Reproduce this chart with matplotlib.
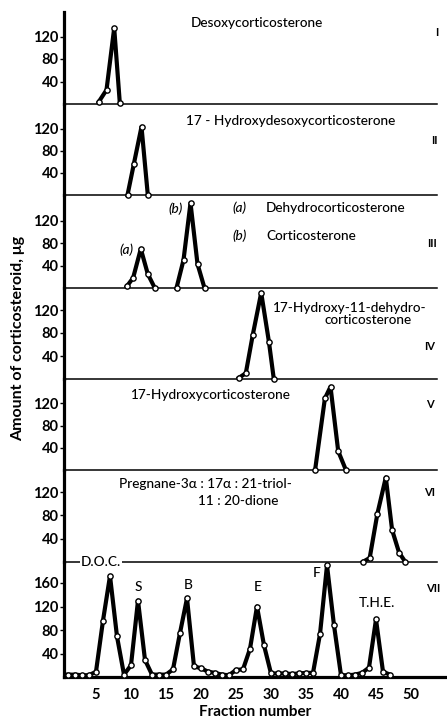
import matplotlib.pyplot as plt

plt.rcParams['font.family'] = ['Lato', 'DejaVu Sans']

W, H = 447, 721

# panel I .. VI : (fraction, amount µg)
frac_1 = [5.4, 6.5, 7.6, 8.4]
amt_1 = [4, 25, 135, 2]

frac_2 = [9.5, 10.4, 11.5, 12.4]
amt_2 = [0, 56, 124, 0]

frac_3a = [9.4, 10.3, 11.4, 12.4, 13.4]
amt_3a = [3, 18, 70, 25, 0]
frac_3b = [16.5, 17.5, 18.5, 19.5, 20.5]
amt_3b = [0, 50, 152, 43, 0]

frac_4 = [25.4, 26.4, 27.4, 28.6, 29.7, 30.4]
amt_4 = [2, 10, 77, 150, 65, 0]

frac_5 = [36.3, 37.7, 38.5, 39.6, 40.7]
amt_5 = [0, 129, 150, 34, 0]

frac_6 = [43.1, 44.1, 45.2, 46.4, 47.3, 48.3, 49.2]
amt_6 = [0, 7, 83, 145, 55, 16, 0]

# panel VII : mixture
frac_7 = list(range(1, 48))
amt_7 = [4, 4, 3, 3, 9, 96, 172, 69, 4, 20, 130, 29, 4, 4, 4, 13, 75, 134,
         18, 15, 9, 7, 4, 3, 12, 13, 48, 120, 54, 6, 6, 6, 5, 6, 7, 7,
         73, 190, 88, 3, 3, 4, 7, 16, 98, 9, 4]

panels = [
    [(frac_1, amt_1)],
    [(frac_2, amt_2)],
    [(frac_3a, amt_3a), (frac_3b, amt_3b)],
    [(frac_4, amt_4)],
    [(frac_5, amt_5)],
    [(frac_6, amt_6)],
    [(frac_7, amt_7)],
]

# layout in pixels
baselines = [12, 104, 195, 288, 379, 470, 562, 677]
px_per_40 = [22.5, 22.0, 22.35, 23.0, 22.2, 23.3, 23.5]
x_left, x_right = 64, 437


def px(x, y):
    return x / W, 1 - y / H


fig = plt.figure(figsize=(W / 100, H / 100), dpi=100)

axes = []
for i, series in enumerate(panels):
    top, bot = baselines[i], baselines[i + 1]
    right = 447 if i == 6 else x_right
    ax = fig.add_axes([x_left / W, 1 - bot / H, (right - x_left) / W, (bot - top) / H])
    ymax = (bot - top) / px_per_40[i] * 40
    ax.set_ylim(0, ymax)
    ax.set_xlim((x_left - 61) / 7, (right - 61) / 7)
    for f, a in series:
        ax.plot(f, a, color='black', lw=3, marker='o', ms=3.8,
                mfc='white', mec='black', mew=1, clip_on=False, zorder=3)
    for s in ['top', 'right']:
        ax.spines[s].set_visible(False)
    ax.spines['left'].set_linewidth(2.3)
    ax.spines['bottom'].set_linewidth(2.3 if i == 6 else 1.1)
    ax.patch.set_alpha(0)
    yt = [40, 80, 120, 160] if i == 6 else [40, 80, 120]
    ax.set_yticks(yt)
    ax.set_yticklabels([str(v) for v in yt], fontsize=10.5, fontweight='bold')
    ax.tick_params(axis='y', direction='out', length=3, width=1, pad=1)
    if i == 6:
        ax.set_xticks(range(5, 55, 5))
        ax.set_xticklabels([str(v) for v in range(5, 55, 5)], fontsize=10.5,
                           fontweight='bold')
        ax.tick_params(axis='x', length=0, pad=8)
        ax.set_xlabel('Fraction number', fontsize=11, fontweight='bold', labelpad=2)
    else:
        ax.set_xticks([])
    axes.append(ax)

fig.text(*px(18, 338), 'Amount of corticosteroid, \u03bcg', rotation=90,
         ha='center', va='center', fontsize=11.5, fontweight='bold')

tkw = dict(fontsize=9.8, va='center', fontweight='medium')
fig.text(*px(257, 23), 'Desoxycorticosterone', ha='center', **tkw)
fig.text(*px(291, 121), '17 - Hydroxydesoxycorticosterone', ha='center', **tkw)
fig.text(*px(232, 208), '(a)', ha='left', style='italic', **tkw)
fig.text(*px(266, 208), 'Dehydrocorticosterone', ha='left', **tkw)
fig.text(*px(232, 236), '(b)', ha='left', style='italic', **tkw)
fig.text(*px(266, 236), 'Corticosterone', ha='left', **tkw)
fig.text(*px(183, 209), '(b)', ha='right', style='italic', **tkw)
fig.text(*px(133, 250), '(a)', ha='right', style='italic', **tkw)
fig.text(*px(427, 308), '17-Hydroxy-11-dehydro-', ha='right', **tkw)
fig.text(*px(412, 320), 'corticosterone', ha='right', **tkw)
fig.text(*px(211, 395), '17-Hydroxycorticosterone', ha='center', **tkw)
fig.text(*px(205, 484), 'Pregnane-3\u03b1 : 17\u03b1 : 21-triol-', ha='center', **tkw)
fig.text(*px(238, 501), '11 : 20-dione', ha='center', **tkw)

fig.text(*px(101, 562), 'D.O.C.', ha='center', fontsize=9.8, va='center',
         fontweight='medium',
         bbox=dict(facecolor='white', edgecolor='none', pad=1), zorder=10)
fig.text(*px(138, 587), 'S', ha='center', **tkw)
fig.text(*px(188, 585), 'B', ha='center', **tkw)
fig.text(*px(258, 587), 'E', ha='center', **tkw)
fig.text(*px(317, 573), 'F', ha='center', **tkw)
fig.text(*px(377, 603), 'T.H.E.', ha='center', **tkw)

rkw = dict(fontsize=8, fontweight='bold', ha='center', va='center')
for lab, (x, y) in zip(['I', 'II', 'III', 'IV', 'V', 'VI', 'VII'],
                       [(437, 33), (434, 141), (432, 243), (430, 347),
                        (430, 405), (430, 493), (433, 588)]):
    fig.text(*px(x, y), lab, **rkw)

fig.savefig('out.png', dpi=100)
